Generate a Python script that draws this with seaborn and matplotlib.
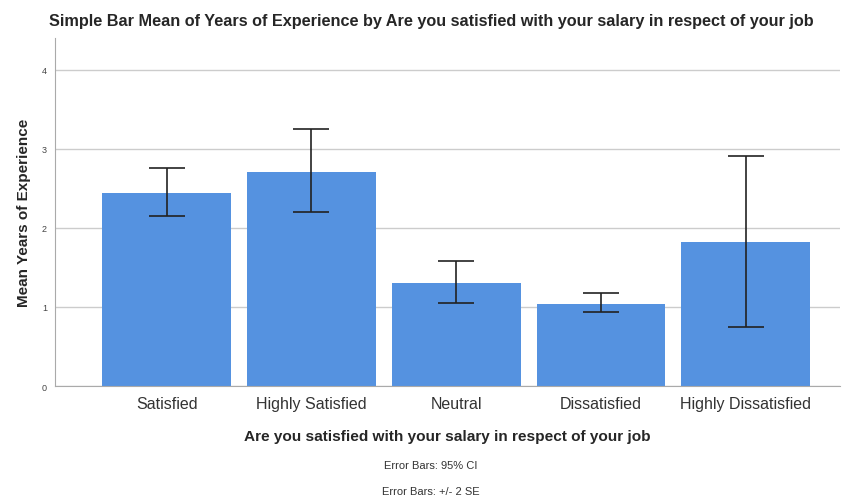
import seaborn as sns
import matplotlib.pyplot as plt
import pandas as pd

categories = ["Satisfied", "Highly Satisfied", "Neutral", "Dissatisfied", "Highly Dissatisfied"]
means = [2.44, 2.71, 1.30, 1.04, 1.82]
ci_low = [2.15, 2.20, 1.05, 0.94, 0.75]
ci_high = [2.76, 3.25, 1.58, 1.18, 2.91]
y_ticks = [0, 1, 2, 3, 4]

df = pd.DataFrame({"cat": categories, "mean": means})

sns.set_style("white")
plt.rcParams["font.family"] = ["Liberation Sans", "DejaVu Sans"]

fig = plt.figure(figsize=(8.5, 5.02), dpi=100)
ax = fig.add_axes([0.065, 0.229, 0.923, 0.693])

sns.barplot(data=df, x="cat", y="mean", color="#5592e0", saturation=1,
            width=0.89, edgecolor="none", linewidth=0, ax=ax, zorder=2)

xs = range(len(categories))
lower = [m - l for m, l in zip(means, ci_low)]
upper = [h - m for m, h in zip(means, ci_high)]
ax.errorbar(xs, means, yerr=[lower, upper], fmt="none", ecolor="#222222",
            elinewidth=1.2, capsize=13, capthick=1.2, zorder=3)

ax.set_xlim(-0.77, 4.65)
ax.set_ylim(0, 4.4)
ax.set_yticks(y_ticks)
ax.set_yticklabels([str(t) for t in y_ticks], fontsize=6.5, color="#444444")
ax.tick_params(axis="x", labelsize=11.5, colors="#333333", length=0, pad=7)
ax.tick_params(axis="y", length=3, color="#aaaaaa", pad=3)
ax.yaxis.grid(True, color="#cccccc", linewidth=1, zorder=0)
ax.set_axisbelow(True)

for s in ["top", "right"]:
    ax.spines[s].set_visible(False)
ax.spines["left"].set_color("#aaaaaa")
ax.spines["bottom"].set_color("#aaaaaa")

ax.set_xlabel("Are you satisfied with your salary in respect of your job",
              fontsize=11.1, fontweight="bold", labelpad=13)
ax.set_ylabel("Mean Years of Experience", fontsize=11, fontweight="bold", labelpad=8)
fig.text(0.507, 0.958, "Simple Bar Mean of Years of Experience by Are you satisfied with your salary in respect of your job",
         ha="center", va="center", fontsize=11.7, fontweight="bold")
fig.text(0.507, 0.072, "Error Bars: 95% CI", ha="center", va="center", fontsize=8, color="#333333")
fig.text(0.507, 0.02, "Error Bars: +/- 2 SE", ha="center", va="center", fontsize=8, color="#333333")

fig.savefig("out.png", dpi=100)
